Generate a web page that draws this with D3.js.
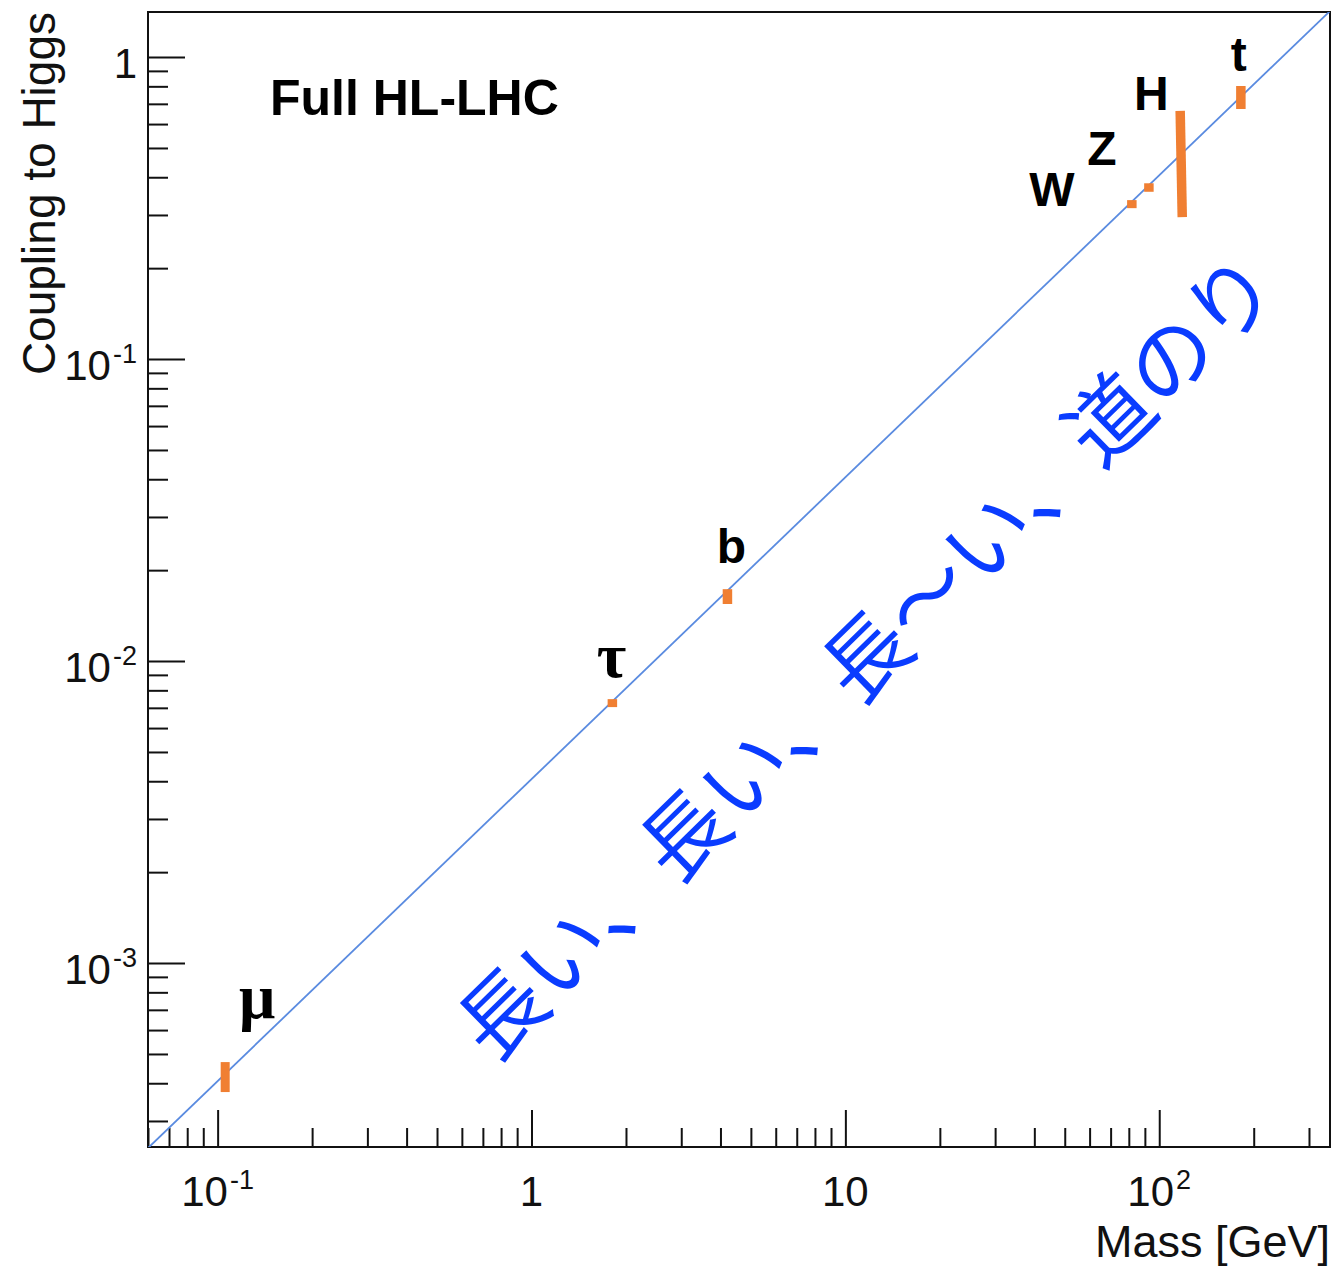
<!DOCTYPE html>
<html>
<head>
<meta charset="utf-8">
<script src="https://cdn.jsdelivr.net/npm/d3@7"></script>
<style>
  html, body { margin: 0; padding: 0; background: #ffffff; }
  svg { display: block; }
</style>
</head>
<body>
<svg id="chart" width="1339" height="1271"></svg>
<script>
// Particles and their measured couplings to the Higgs boson (projected HL-LHC precision)
const particles      = ["μ", "τ", "b", "W", "Z", "H", "t"];
const massUpper      = [0.1057, 1.81, 4.21, 81.8, 92.7, 116.6, 182];   // GeV, at upper end of band
const massLower      = [0.1057, 1.81, 4.21, 81.8, 92.7, 118.4, 182];   // GeV, at lower end of band
const couplingUpper  = [4.70e-4, 7.48e-3, 0.0173, 0.336, 0.382, 0.663, 0.802];
const couplingLower  = [3.74e-4, 7.04e-3, 0.01545, 0.316, 0.358, 0.295, 0.673];

// Standard Model expectation: coupling proportional to mass
const smLineMass     = [0.06, 350];
const smLineCoupling = [2.44e-4, 1.42];

// Axis ticks and labels
const xMajorTicks = [0.1, 1, 10, 100];
const xTickBase   = ["10", "1", "10", "10"];
const xTickExp    = ["-1", "", "", "2"];
const yMajorTicks = [1, 0.1, 0.01, 0.001];
const yTickBase   = ["1", "10", "10", "10"];
const yTickExp    = ["", "-1", "-2", "-3"];

const xTitle = "Mass [GeV]";
const yTitle = "Coupling to Higgs";
const plotTitle = "Full HL-LHC";
const slogan = "長い、長い、長〜い、道のり";

// ---------- layout ----------
const frame = { left: 148, right: 1330, top: 12, bottom: 1147 };
const labelOffset = {           // particle label position relative to the centre of its band
  "μ": [32, -59], "τ": [-1, -26], "b": [4, -34],
  "W": [-80, 2], "Z": [-47, -23], "H": [-30, -54], "t": [-2, -27]
};
const barColor  = "#f07f32";
const lineColor = "#5a8be0";

const svg = d3.select("#chart");

const x = d3.scaleLog().domain([0.06, 350]).range([frame.left, frame.right]);
const y = d3.scaleLog().domain([2.46e-4, 1.41]).range([frame.bottom, frame.top]);

// minor ticks = every log tick that is not a power of ten
const isMajor = v => Math.abs(Math.log10(v) - Math.round(Math.log10(v))) < 1e-9;
const xMinor = x.ticks().filter(v => !isMajor(v));
const yMinor = y.ticks().filter(v => !isMajor(v));

const axisG = svg.append("g").attr("class", "axes");

function styleAxis(g) {
  g.select(".domain").remove();
  g.selectAll(".tick line").attr("stroke", "#111").attr("stroke-width", 2);
  g.selectAll(".tick text").remove();
}

axisG.append("g")
  .attr("transform", `translate(0,${frame.bottom})`)
  .call(d3.axisBottom(x).tickValues(xMajorTicks).tickSize(-37).tickSizeOuter(0))
  .call(styleAxis);
axisG.append("g")
  .attr("transform", `translate(0,${frame.bottom})`)
  .call(d3.axisBottom(x).tickValues(xMinor).tickSize(-19).tickSizeOuter(0))
  .call(styleAxis);
axisG.append("g")
  .attr("transform", `translate(${frame.left},0)`)
  .call(d3.axisLeft(y).tickValues(yMajorTicks).tickSize(-37).tickSizeOuter(0))
  .call(styleAxis);
axisG.append("g")
  .attr("transform", `translate(${frame.left},0)`)
  .call(d3.axisLeft(y).tickValues(yMinor).tickSize(-20).tickSizeOuter(0))
  .call(styleAxis);

// frame
svg.append("rect")
  .attr("x", frame.left).attr("y", frame.top)
  .attr("width", frame.right - frame.left).attr("height", frame.bottom - frame.top)
  .attr("fill", "none").attr("stroke", "#111").attr("stroke-width", 2);

// tick labels with superscript exponents
const labelFont = "'Liberation Sans', Arial, Helvetica, sans-serif";

function powerLabel(sel, base, exp) {
  sel.append("tspan").text(base);
  if (exp) sel.append("tspan").attr("font-size", 27).attr("dy", -17).attr("dx", 2).text(exp);
}

xMajorTicks.forEach((v, i) => {
  const t = svg.append("text")
    .attr("x", x(v)).attr("y", 1206)
    .attr("text-anchor", "middle")
    .attr("font-family", labelFont).attr("font-size", 42).attr("fill", "#111");
  powerLabel(t, xTickBase[i], xTickExp[i]);
});

yMajorTicks.forEach((v, i) => {
  const t = svg.append("text")
    .attr("x", 137).attr("y", y(v) + 21)
    .attr("text-anchor", "end")
    .attr("font-family", labelFont).attr("font-size", 42).attr("fill", "#111");
  powerLabel(t, yTickBase[i], yTickExp[i]);
});

// axis titles
svg.append("text")
  .attr("x", frame.right).attr("y", 1257)
  .attr("text-anchor", "end")
  .attr("font-family", labelFont).attr("font-size", 45).attr("fill", "#111")
  .text(xTitle);

svg.append("text")
  .attr("transform", `translate(55,${frame.top}) rotate(-90)`)
  .attr("text-anchor", "end")
  .attr("font-family", labelFont).attr("font-size", 46).attr("fill", "#111")
  .text(yTitle);

// plot title
svg.append("text")
  .attr("x", 270).attr("y", 115)
  .attr("font-family", labelFont).attr("font-weight", "bold").attr("font-size", 50).attr("fill", "#000")
  .text(plotTitle);

// clip region for the data
svg.append("clipPath").attr("id", "plotClip")
  .append("rect")
  .attr("x", frame.left).attr("y", frame.top)
  .attr("width", frame.right - frame.left).attr("height", frame.bottom - frame.top);

const plot = svg.append("g").attr("clip-path", "url(#plotClip)");

// SM expectation line
plot.append("line")
  .attr("x1", x(smLineMass[0])).attr("y1", y(smLineCoupling[0]))
  .attr("x2", x(smLineMass[1])).attr("y2", y(smLineCoupling[1]))
  .attr("stroke", lineColor).attr("stroke-width", 1.8);

// slogan along the diagonal
svg.append("text")
  .attr("transform", "translate(862,652) rotate(-44.4)")
  .attr("text-anchor", "middle")
  .attr("dominant-baseline", "central")
  .attr("font-family", "'Noto Sans CJK JP', sans-serif")
  .attr("font-size", 85)
  .attr("fill", "#0a3cff")
  .text(slogan);

// uncertainty bands
const bands = particles.map((p, i) => ({
  name: p,
  m1: massUpper[i], c1: couplingUpper[i],
  m2: massLower[i], c2: couplingLower[i]
}));

plot.selectAll("line.band")
  .data(bands)
  .join("line")
  .attr("class", "band")
  .attr("x1", d => x(d.m1)).attr("y1", d => y(d.c1))
  .attr("x2", d => x(d.m2)).attr("y2", d => y(d.c2))
  .attr("stroke", barColor)
  .attr("stroke-width", d => d.name === "μ" ? 9 : 9.5);

// particle labels
const isGreek = d => d.name === "μ" || d.name === "τ";
svg.selectAll("text.particle")
  .data(bands)
  .join("text")
  .attr("class", "particle")
  .attr("x", d => (x(d.m1) + x(d.m2)) / 2 + labelOffset[d.name][0])
  .attr("y", d => (y(d.c1) + y(d.c2)) / 2 + labelOffset[d.name][1])
  .attr("text-anchor", "middle")
  .attr("font-family", d => isGreek(d) ? "'Liberation Serif', 'DejaVu Serif', serif" : labelFont)
  .attr("font-weight", "bold")
  .attr("font-size", d => isGreek(d) ? 64 : 48)
  .attr("fill", "#000")
  .text(d => d.name);
</script>
</body>
</html>
